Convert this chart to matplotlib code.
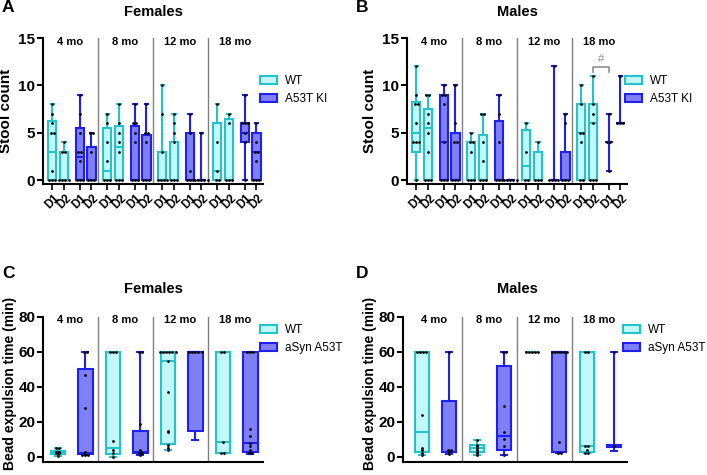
import numpy as np
import matplotlib.pyplot as plt
from matplotlib.patches import Patch

plt.rcParams['font.family'] = ['Liberation Sans', 'DejaVu Sans']
plt.rcParams['font.weight'] = 'bold'

months = ['4 mo', '8 mo', '12 mo', '18 mo']
days = ['D1', 'D2']

# box stats (min, q1, median, q3, max); per month: WT D1, WT D2, KI D1, KI D2
stool_f_box = [
    (0, 0, 3, 6.25, 8), (0, 0, 0, 3, 4), (0, 0, 2.5, 5.5, 9), (0, 0, 0, 3.5, 5),
    (0, 0, 1, 5.5, 7), (0, 0, 3.5, 5.75, 8), (0, 0, 0, 5.75, 8), (0, 0, 0, 4.75, 8),
    (0, 0, 0, 3, 10), (0, 0, 0, 4, 7), (0, 0, 0, 5, 7), (0, 0, 0, 0, 5),
    (0, 0, 1, 6, 8), (0, 0, 0, 6.5, 7), (0, 4, 5, 6, 9), (0, 0, 3, 5, 6),
]
stool_f_pts = [
    [8, 7, 6, 5, 5, 1, 0, 0, 0], [4, 3, 3, 0, 0, 0, 0], [9, 7, 5, 3, 3, 2, 0, 0, 0], [5, 5, 3, 0, 0, 0],
    [7, 6, 4, 2, 0, 0, 0], [8, 6, 5, 4, 3, 0, 0, 0], [8, 6, 6, 5, 4, 0, 0, 0], [8, 5, 5, 4, 0, 0, 0],
    [10, 7, 3, 0, 0, 0, 0], [7, 6, 5, 4, 0, 0, 0], [7, 5, 1, 0, 0, 0], [5, 0, 0, 0, 0, 0],
    [8, 4, 1, 0, 0], [7, 6, 0, 0, 0], [9, 6, 6, 6, 5, 4, 0], [6, 4, 3, 3, 2, 0, 0, 0],
]
stool_m_box = [
    (0, 3, 5, 8.2, 12), (0, 0, 5.5, 7.5, 9), (0, 0, 4, 9, 10), (0, 0, 0, 5, 10),
    (0, 0, 0, 4, 5), (0, 0, 0, 4.75, 7), (0, 0, 0, 6.25, 9), (0, 0, 0, 0, 0),
    (0, 0, 1.5, 5.25, 6), (0, 0, 0, 3, 4), (0, 0, 0, 0, 12), (0, 0, 0, 3, 7),
    (0, 0, 5, 8, 10), (0, 0, 6, 8, 11), (1, 4, 4, 4, 7), (6, 6, 6, 6, 11),
]
stool_m_pts = [
    [12, 9, 8, 8, 6, 4, 4, 4, 0], [9, 9, 7, 6, 5, 3, 0, 0, 0], [10, 9, 9, 8, 4, 0, 0, 0], [10, 6, 4, 4, 0, 0, 0],
    [5, 4, 4, 3, 0, 0, 0], [7, 7, 4, 2, 0, 0, 0], [9, 7, 4, 0, 0, 0], [0, 0, 0, 0, 0],
    [6, 3, 0, 0], [4, 0, 0, 0], [12, 0, 0, 0, 0], [7, 6, 0, 0, 0],
    [10, 8, 5, 5, 4, 0, 0], [11, 8, 7, 6, 0, 0, 0], [7, 4, 4, 1], [11, 6, 6, 6],
]

# bead expulsion; per month: WT, aSyn A53T
bead_f_box = [
    (0.5, 1.5, 2.5, 3.5, 5), (1, 1.5, 2, 50, 60),
    (0, 1.5, 5, 60, 60), (1, 2, 2.5, 15, 60),
    (4, 7.5, 55, 60, 60), (9.5, 15, 60, 60, 60),
    (2, 2, 8.5, 60, 60), (1.5, 3, 8, 60, 60),
]
bead_f_pts = [
    [5, 5, 3, 3, 2.5, 2, 2, 1, 0.5], [60, 60, 47, 28, 3, 2, 1, 1, 1],
    [60, 60, 60, 9, 4, 2, 0], [60, 60, 19, 4, 3, 2, 2, 1],
    [60, 60, 60, 60, 60, 60, 55, 37, 15, 14, 7, 5, 4], [60, 60, 60, 60, 60],
    [60, 60, 8.5, 2, 2], [60, 60, 60, 16, 12, 8, 6, 4, 2, 2],
]
bead_m_box = [
    (1, 2.5, 14, 60, 60), (1.5, 2.5, 3, 32, 60),
    (1, 3, 5, 6.8, 9.5), (1, 4, 12, 52, 60),
    (60, 60, 60, 60, 60), (2, 3, 60, 60, 60),
    (2, 2.5, 6, 60, 60), (3.5, 5.5, 6, 6.5, 60),
]
bead_m_pts = [
    [60, 60, 60, 60, 24, 5, 4, 2, 1], [60, 4, 4, 3, 2, 1.5],
    [9.5, 7, 6, 5, 4, 3, 2, 1], [60, 60, 29, 14, 10, 6, 1],
    [60, 60, 60, 60, 60], [60, 60, 60, 60, 60, 60, 8.5, 2, 2],
    [60, 60, 6, 6, 4, 2, 2], [60, 6],
]

wt_face, wt_edge = '#c4f8f8', '#22c4cc'
ki_face, ki_edge = '#8080f6', '#2020ee'

W, H = 707, 475
fig = plt.figure(figsize=(W / 100, H / 100), dpi=100)


def px(x, y):
    return x / W, 1 - y / H


def draw_boxes(ax, boxes, pts, offsets, genos, width):
    n = len(offsets)
    for i, (b, p) in enumerate(zip(boxes, pts)):
        pos = (i // n) * 5 + offsets[i % n]
        face, edge = (wt_face, wt_edge) if genos[i % n] == 0 else (ki_face, ki_edge)
        st = dict(whislo=b[0], q1=b[1], med=b[2], q3=b[3], whishi=b[4], fliers=[])
        ax.bxp([st], positions=[pos], widths=width, patch_artist=True, showfliers=False,
               capwidths=width * 0.4,
               boxprops=dict(facecolor=face, edgecolor=edge, lw=1.5),
               medianprops=dict(color=edge, lw=1.5),
               whiskerprops=dict(color=edge, lw=1.5),
               capprops=dict(color=edge, lw=1.5))
        # spread repeated values side by side
        vals, counts = np.unique(p, return_counts=True)
        for v, c in zip(vals, counts):
            xs = pos + (np.arange(c) - (c - 1) / 2) * 0.28
            ax.scatter(xs, [v] * c, s=4, color='black', zorder=4, linewidths=0)


def style(ax, ylim, yticks, month_y):
    ax.set_xlim(0, 20)
    ax.set_ylim(*ylim)
    ax.set_yticks(yticks)
    for s in ['top', 'right']:
        ax.spines[s].set_visible(False)
    for s in ['left', 'bottom']:
        ax.spines[s].set_linewidth(1.5)
    ax.tick_params(axis='y', labelsize=11, width=1.5, length=4, pad=1.5)
    for x in [5, 10, 15]:
        ax.axvline(x, color='#808080', lw=1)
    for g, m in enumerate(months):
        ax.text(g * 5 + 2.5, month_y, m, ha='center', va='center', fontsize=8, fontweight='bold')


def legend(ax, labels, x, y):
    handles = [Patch(facecolor=wt_face, edgecolor=wt_edge, lw=1.5),
               Patch(facecolor=ki_face, edgecolor=ki_edge, lw=1.5)]
    ax.legend(handles, labels, loc='upper left', bbox_to_anchor=px(x, y),
              bbox_transform=fig.transFigure, frameon=False,
              prop=dict(weight='normal', size=8.5), handlelength=1.45, handleheight=0.7,
              handletextpad=0.7, labelspacing=0.5, borderaxespad=0, borderpad=0)


stool_off = [0.85, 1.9, 3.35, 4.4]
stool_geno = [0, 0, 1, 1]
bead_off = [1.35, 3.85]
bead_geno = [0, 1]

ax_a = fig.add_axes([43 / W, 1 - 184 / H, 220 / W, 146 / H])
ax_b = fig.add_axes([407 / W, 1 - 184 / H, 220 / W, 146 / H])
ax_c = fig.add_axes([43 / W, 1 - 462 / H, 220 / W, 145 / H])
ax_d = fig.add_axes([403 / W, 1 - 462 / H, 224 / W, 145 / H])

for ax, box, pts in [(ax_a, stool_f_box, stool_f_pts), (ax_b, stool_m_box, stool_m_pts)]:
    draw_boxes(ax, box, pts, stool_off, stool_geno, 0.75)
    style(ax, (-0.4, 15), [0, 5, 10, 15], 14.6)
    ticks = [g * 5 + o for g in range(4) for o in stool_off]
    ax.set_xticks(ticks)
    ax.set_xticklabels(days * 8, rotation=45, fontsize=8.5, fontweight='bold')
    ax.tick_params(axis='x', width=1.2, length=4, pad=2)
    ax.set_ylabel('Stool count', fontsize=11, fontweight='bold')
    ax.yaxis.set_label_coords(-0.135, 0.5)

for ax, box, pts in [(ax_c, bead_f_box, bead_f_pts), (ax_d, bead_m_box, bead_m_pts)]:
    draw_boxes(ax, box, pts, bead_off, bead_geno, 1.3)
    style(ax, (-3, 80), [0, 20, 40, 60, 80], 78)
    ax.set_xticks([])
    ax.set_ylabel('Bead expulsion time (min)', fontsize=10, fontweight='bold')
    ax.yaxis.set_label_coords(-0.12, 0.54)
ax_d.set_xlim(-0.36, 20)
ax_d.yaxis.set_label_coords(-0.115, 0.54)

# significance bracket, 18 mo males
x1, x2 = 15 + stool_off[1], 15 + stool_off[2]
ax_b.plot([x1, x1, x2, x2], [11.4, 11.9, 11.9, 11.4], color='#909090', lw=1.2)
ax_b.text((x1 + x2) / 2, 12.3, '#', ha='center', va='bottom', fontsize=8,
          color='#909090', fontweight='normal')

legend(ax_a, ['WT', 'A53T KI'], 260, 75)
legend(ax_b, ['WT', 'A53T KI'], 625, 75)
legend(ax_c, ['WT', 'aSyn A53T'], 260, 324)
legend(ax_d, ['WT', 'aSyn A53T'], 623, 324)

for t, x, y in [('Females', 153, 12), ('Males', 517, 12), ('Females', 153, 289), ('Males', 517, 289)]:
    fig.text(*px(x, y), t, ha='center', va='center', fontsize=10.5, fontweight='bold')
for t, x, y in [('A', 2, 8), ('B', 356, 8), ('C', 2, 273), ('D', 356, 273)]:
    fig.text(*px(x, y), t, ha='left', va='center', fontsize=12.5, fontweight='bold')

fig.savefig('out.png', dpi=100)
